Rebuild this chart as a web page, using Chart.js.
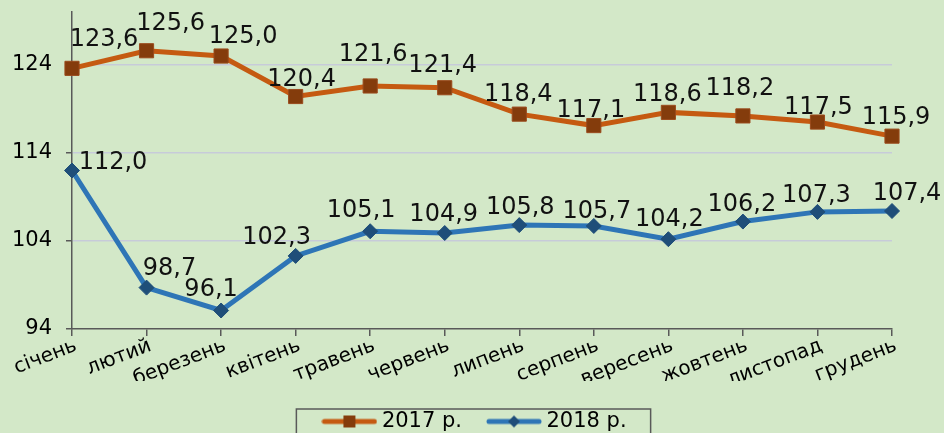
<!DOCTYPE html>
<html>
<head>
<meta charset="utf-8">
<script src="https://cdn.jsdelivr.net/npm/chart.js@4.4.1/dist/chart.umd.min.js"></script>
<style>
  html, body { margin: 0; padding: 0; background: #D3E8C8; overflow: hidden; }
  #wrap { width: 944px; height: 442px; }
</style>
</head>
<body>
<div id="wrap"><canvas id="chart"></canvas></div>
<script>
const months = ['січень', 'лютий', 'березень', 'квітень', 'травень', 'червень',
                'липень', 'серпень', 'вересень', 'жовтень', 'листопад', 'грудень'];
const values2017 = [123.6, 125.6, 125.0, 120.4, 121.6, 121.4, 118.4, 117.1, 118.6, 118.2, 117.5, 115.9];
const values2018 = [112.0, 98.7, 96.1, 102.3, 105.1, 104.9, 105.8, 105.7, 104.2, 106.2, 107.3, 107.4];
const seriesNames = ['2017 р.', '2018 р.'];
const yTicks = [94, 104, 114, 124];

// where each value label sits relative to its point (label centre)
const labelShift = [
  [[32,-31],[24,-30],[22,-22],[6,-20],[3,-34],[-2,-25],[-1,-22],[-3,-18],[-1,-20],[-3,-30],[1,-17],[4,-21]],
  [[41,-11],[23,-22],[-10,-24],[-19,-21],[-9,-23],[-1,-21],[1,-20],[3,-17],[1,-22],[-1,-20],[-1,-19],[15,-20]]
];

const FONT = '"DejaVu Sans", Verdana, sans-serif';
const AXIS = '#595959';

function legendIcon(line, fill, style) {
  const c = document.createElement('canvas');
  c.width = 56; c.height = 16;
  const g = c.getContext('2d');
  g.strokeStyle = line; g.lineWidth = 5; g.lineCap = 'round';
  g.beginPath(); g.moveTo(3, 8); g.lineTo(53, 8); g.stroke();
  g.fillStyle = fill;
  if (style === 'rect') {
    g.fillRect(22, 2, 12, 12);
  } else {
    g.beginPath();
    g.moveTo(28, 2); g.lineTo(34, 8); g.lineTo(28, 14); g.lineTo(22, 8);
    g.closePath(); g.fill();
  }
  return c;
}
const icons = [legendIcon('#C55A11', '#843C0C', 'rect'), legendIcon('#2E75B6', '#1F4E79', 'diamond')];

const bg = {
  id: 'bg',
  beforeDraw(chart) {
    const ctx = chart.ctx;
    ctx.save();
    ctx.fillStyle = '#D3E8C8';
    ctx.fillRect(0, 0, chart.width, chart.height);
    ctx.restore();
  }
};

const valueLabels = {
  id: 'valueLabels',
  afterDatasetsDraw(chart) {
    const ctx = chart.ctx;
    ctx.save();
    ctx.font = '24px ' + FONT;
    ctx.fillStyle = '#111';
    ctx.textAlign = 'center';
    ctx.textBaseline = 'alphabetic';
    chart.data.datasets.forEach((ds, i) => {
      chart.getDatasetMeta(i).data.forEach((pt, j) => {
        const s = labelShift[i][j];
        const txt = ds.data[j].toFixed(1).replace('.', ',');
        ctx.fillText(txt, pt.x + s[0], pt.y + s[1] + 9);
      });
    });
    ctx.restore();
  }
};

const legendBox = {
  id: 'legendBox',
  afterLayout(chart) {
    chart.legend.left += 31;
    chart.legend.right += 31;
  },
  afterDraw(chart) {
    const hb = chart.legend.legendHitBoxes;
    if (!hb || hb.length < 2) return;
    const ctx = chart.ctx;
    const l = hb[0].left - 31;
    const r = hb[1].left + hb[1].width + 24;
    const t = hb[0].top - 2;
    ctx.save();
    ctx.strokeStyle = AXIS;
    ctx.lineWidth = 1.5;
    ctx.strokeRect(l, t, r - l, 50);
    ctx.restore();
  }
};

new Chart(document.getElementById('chart'), {
  type: 'line',
  data: {
    labels: months,
    datasets: [
      {
        label: seriesNames[0],
        data: values2017,
        borderColor: '#C55A11',
        borderWidth: 5,
        pointStyle: 'rect',
        pointRadius: 10,
        pointBackgroundColor: '#843C0C',
        pointBorderColor: '#9A4A1C',
        pointBorderWidth: 1,
        tension: 0,
        clip: false
      },
      {
        label: seriesNames[1],
        data: values2018,
        borderColor: '#2E75B6',
        borderWidth: 5,
        pointStyle: 'rectRot',
        pointRadius: 7.5,
        pointBackgroundColor: '#1F4E79',
        pointBorderColor: '#1F4E79',
        pointBorderWidth: 1,
        tension: 0,
        clip: false
      }
    ]
  },
  options: {
    responsive: true,
    maintainAspectRatio: false,
    animation: false,
    layout: { padding: { top: 12, right: 52, left: 0, bottom: 0 } },
    plugins: {
      tooltip: { enabled: false },
      legend: {
        position: 'bottom',
        labels: {
          usePointStyle: true,
          pointStyleWidth: 44,
          padding: 30,
          color: '#000',
          font: { family: FONT, size: 21 },
          generateLabels(chart) {
            const items = Chart.defaults.plugins.legend.labels.generateLabels(chart);
            items.forEach((it, i) => { it.pointStyle = icons[i]; });
            return items;
          }
        }
      }
    },
    scales: {
      x: {
        offset: false,
        afterFit(scale) {
          scale.height = 52;
          scale.paddingLeft = 0; scale.paddingRight = 0;
        },
        grid: { drawOnChartArea: false, tickLength: 7, tickColor: AXIS, lineWidth: 1.5 },
        border: { color: AXIS, width: 1.5 },
        ticks: {
          autoSkip: false,
          minRotation: 21,
          maxRotation: 21,
          padding: -2,
          labelOffset: 4,
          color: '#000',
          font: { family: FONT, size: 20 }
        }
      },
      y: {
        min: 94,
        max: 130,
        afterFit(scale) {
          scale.width = 72;
          scale.paddingTop = 0; scale.paddingBottom = 0;
        },
        afterBuildTicks(scale) { scale.ticks = yTicks.map(v => ({ value: v })); },
        grid: {
          color: ctx => (ctx.tick && ctx.tick.value === 94) ? 'rgba(0,0,0,0)' : '#C7CBD9',
          lineWidth: 1.5,
          tickLength: 6,
          tickColor: AXIS
        },
        border: { color: AXIS, width: 1.5 },
        ticks: {
          padding: 14,
          color: '#000',
          font: { family: FONT, size: 21 }
        }
      }
    }
  },
  plugins: [bg, valueLabels, legendBox]
});
</script>
</body>
</html>
